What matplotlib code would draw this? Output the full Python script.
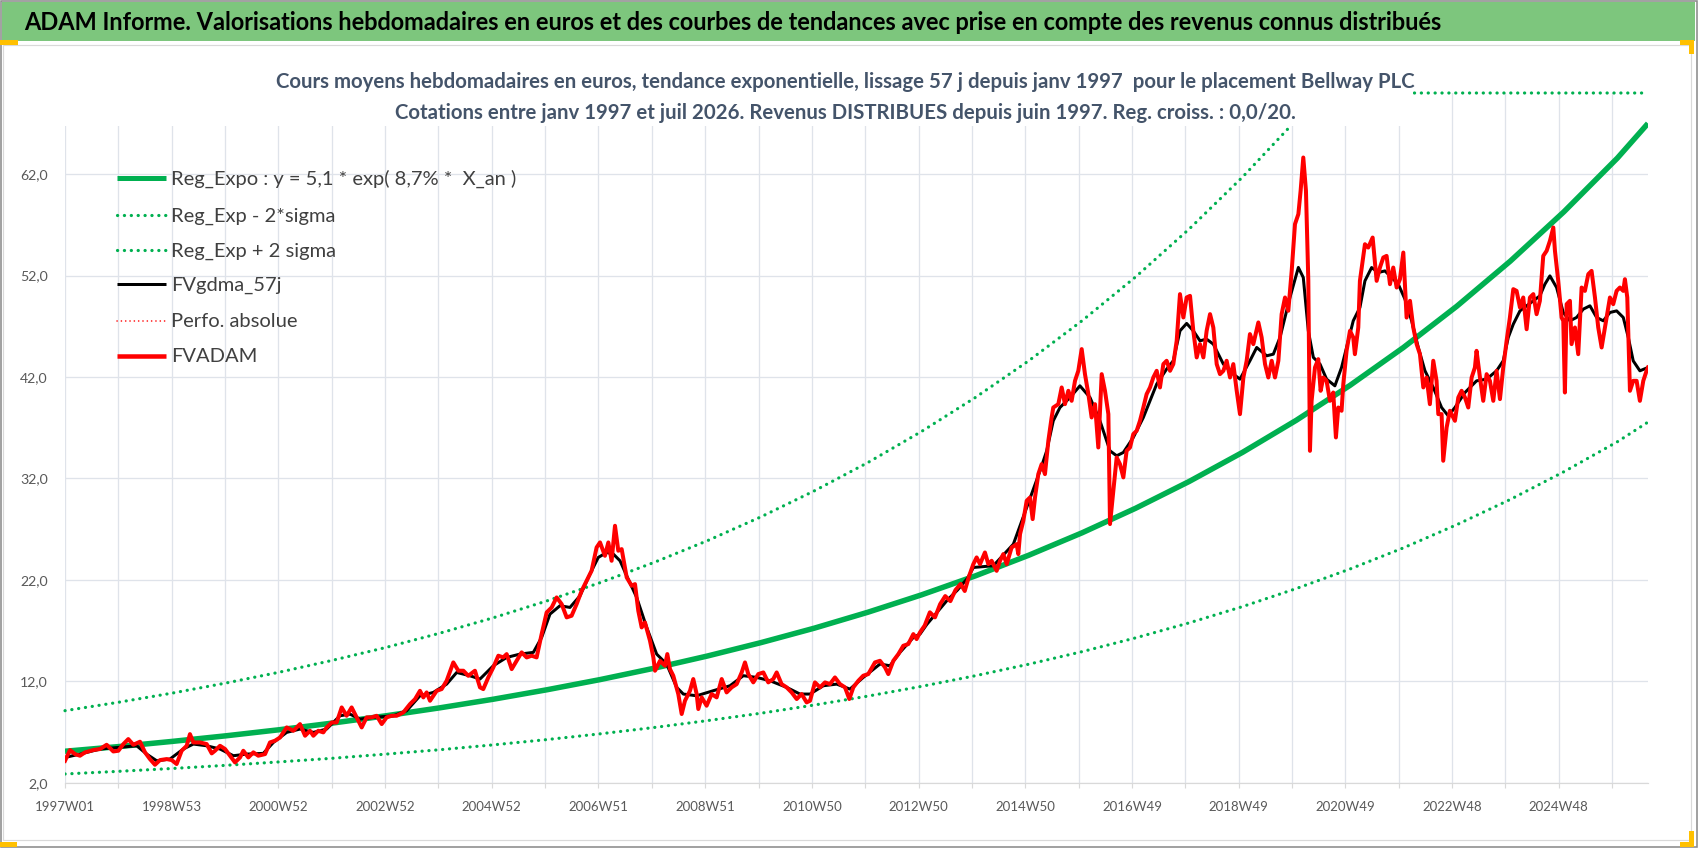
import numpy as np
import matplotlib
matplotlib.use("Agg")
import matplotlib.pyplot as plt
from matplotlib import font_manager
from matplotlib.lines import Line2D
from matplotlib.patches import Rectangle

# ---------------- data ----------------
x_labels = ["1997W01", "1998W53", "2000W52", "2002W52", "2004W52", "2006W51", "2008W51",
            "2010W50", "2012W50", "2014W50", "2016W49", "2018W49", "2020W49", "2022W48", "2024W48"]
n_weeks = 1544
y_ticks = [2, 12, 22, 32, 42, 52, 62]

trend_years = [0, 1, 2, 3, 4, 5, 6, 7, 8, 9, 10, 11, 12, 13, 14, 15, 16, 17, 18, 19,
               20, 21, 22, 23, 24, 25, 26, 27, 28, 29, 29.57]
reg_expo = [5.10, 5.56, 6.07, 6.62, 7.22, 7.88, 8.60, 9.38, 10.23, 11.16, 12.17, 13.28, 14.49,
            15.81, 17.24, 18.81, 20.52, 22.38, 24.42, 26.64, 29.06, 31.70, 34.58, 37.73, 41.16,
            44.90, 48.98, 53.43, 58.29, 63.59, 67.00]
reg_plus = [9.10, 9.93, 10.83, 11.82, 12.89, 14.07, 15.34, 16.74, 18.26, 19.92, 21.73, 23.71,
            25.86, 28.21, 30.78, 33.57, 36.63, 39.96, 43.59, 47.55, 51.87, 56.59, 61.73, 67.34,
            73.47, 80.15, 87.43, 95.38, 104.05, 113.51, 119.60]
reg_minus = [2.86, 3.12, 3.40, 3.71, 4.05, 4.41, 4.82, 5.25, 5.73, 6.25, 6.82, 7.44, 8.12, 8.85,
             9.66, 10.54, 11.50, 12.54, 13.68, 14.92, 16.28, 17.76, 19.37, 21.14, 23.06, 25.15,
             27.44, 29.93, 32.66, 35.62, 37.55]

fvadam_week = [
    0, 4.9, 9.8, 14.6, 19.5, 27.6, 34.1, 40.6, 47.1, 52.0, 56.9, 61.7, 66.6, 73.1, 78.0, 82.8,
    87.7, 92.6, 99.1, 104.0, 108.8, 113.7, 118.6, 121.8, 125.1, 131.6, 138.1, 143.0, 146.2,
    151.1, 156.0, 160.8, 165.7, 170.6, 173.8, 178.7, 183.6, 188.4, 195.0, 199.8, 204.7, 209.6,
    216.1, 222.6, 229.1, 234.0, 238.8, 242.1, 246.9, 251.8, 255.0, 260.0, 264.8, 269.7, 274.5,
    279.4, 284.3, 289.2, 294.0, 298.9, 303.8, 308.7, 313.5, 318.4, 323.3, 329.8, 336.3, 341.2,
    346.0, 349.3, 352.5, 355.8, 362.3, 367.1, 372.0, 378.5, 383.4, 388.3, 393.1, 399.6,
    404.5, 407.7, 412.6, 417.5, 422.4, 427.2, 430.5, 435.4, 440.2, 445.1, 450.0, 454.9, 459.7,
    464.6, 469.5, 474.4, 479.2, 484.1, 489.0, 493.8, 498.7, 503.6, 508.5, 513.3, 518.2, 521.5,
    526.3, 529.6, 532.8, 536.1, 539.3, 542.6, 547.5, 552.3, 555.6, 558.8, 562.1, 565.3, 570.2,
    573.5, 575.1, 580.0, 584.8, 587.1, 589.7, 592.9, 597.8, 601.1, 604.3, 609.2, 612.4, 615.7,
    617.3, 620.6, 625.4, 630.3, 635.2, 640.1, 644.9, 649.8, 654.7, 659.6, 662.8, 666.0, 670.9,
    675.8, 680.7, 685.5, 690.4, 693.7, 698.5, 703.4, 708.3, 713.2, 718.0, 722.9, 726.2, 731.0,
    735.9, 740.8, 745.6, 750.5, 755.4, 760.3, 764.5, 768.4, 773.3, 778.1, 783.0, 789.5, 794.4,
    799.3, 802.5, 807.4, 812.3, 817.1, 822.0, 826.9, 830.1, 833.4,
    838, 843, 848, 853, 858, 863, 868, 873, 877, 881,
    885.4, 888.6, 891.9, 896.7, 900.0, 903.2, 908.1, 911.4, 914.6, 917.9, 922.7, 927.6, 929.2,
    930.9, 934.1, 937.4, 940.6, 943.2, 945.5, 948.7, 952.0, 955.2, 958.5, 961.7, 963.3, 968.2,
    971.5, 974.7, 978.0, 981.2, 984.5, 987.7, 991.0, 994.2, 997.5, 1000.7, 1004.0, 1007.2,
    1010.5, 1013.7, 1017.0, 1018.6, 1021.8, 1025.1, 1028.3, 1031.6, 1034.8, 1038.1, 1041.3,
    1044.6, 1047.8, 1051.1, 1054.3, 1057.6, 1060.8, 1064.1, 1067.3, 1070.6, 1073.8, 1077.1,
    1080.3, 1083.6, 1086.8, 1090.1, 1093.3, 1096.6, 1099.8, 1103.1, 1106.3, 1109.6, 1112.8,
    1116.1, 1119.3, 1122.6, 1125.8, 1129.1, 1132.3, 1135.6, 1138.8, 1142.1, 1145.3, 1148.6,
    1151.8, 1155.0, 1158.3, 1163.2, 1166.4, 1169.7, 1172.9, 1176.2, 1179.4, 1182.7, 1185.9,
    1189.2, 1192.4, 1195.7, 1198.9, 1202.2, 1204.4, 1207.0, 1209.6, 1211.9, 1213.5,
    1215.1, 1218.4, 1221.6, 1223.9, 1226.5, 1229.7, 1233.0, 1236.2, 1238.8, 1241.1, 1244.3,
    1246.0, 1249.2, 1252.5, 1255.7, 1257.3, 1260.6, 1262.2, 1267.1, 1270.3, 1274.6, 1278.5,
    1281.7, 1285.0, 1288.2, 1291.5, 1294.7, 1298.0, 1301.2, 1304.5, 1307.7, 1311.0, 1314.2,
    1317.5, 1320.7, 1324.0, 1327.2, 1330.4, 1333.7, 1336.9, 1338.6, 1341.8, 1343.4, 1346.7,
    1349.9, 1354.8, 1358.1, 1361.3, 1364.6, 1367.8, 1371.1, 1374.3, 1375.9, 1379.2, 1382.4,
    1385.7, 1388.9, 1392.2, 1395.4, 1398.7, 1401.9, 1405.2, 1408.4, 1411.7, 1414.9, 1418.2,
    1421.4, 1424.7, 1427.9, 1431.2, 1434.4, 1437.6, 1440.9, 1444.2, 1447.4, 1450.7, 1452.3,
    1455.5, 1458.8, 1460.4, 1462.0, 1463.7, 1466.9, 1468.5, 1471.8, 1475.0, 1478.3, 1481.5,
    1484.8, 1488.0, 1491.3, 1494.5, 1497.8, 1501.0, 1505.9, 1509.1, 1512.4, 1515.6, 1518.9,
    1520.5, 1522.8, 1525.4, 1528.6, 1531.9, 1535.1, 1538.4, 1541.6, 1543.0]
fvadam = [
    4.16, 5.22, 4.82, 4.66, 4.99, 5.22, 5.32, 5.74, 5.08, 5.15, 5.81, 6.30, 5.74, 6.04, 4.99, 4.33,
    3.77, 4.23, 4.33, 4.23, 3.84, 5.15, 5.64, 6.79, 5.97, 5.97, 5.81, 4.89, 5.15,
    5.64, 5.32, 4.66, 4.00, 4.49, 5.15, 4.49, 4.99, 4.66, 4.82, 5.97, 6.14, 6.46,
    7.45, 7.12, 7.78, 6.63, 7.12, 6.63, 7.12, 6.96, 7.45, 7.94, 7.94, 9.42, 8.60,
    9.42, 8.44, 7.45, 8.44, 8.44, 8.60, 7.78, 8.44, 8.60, 8.60, 8.93, 9.75, 10.24,
    11.06, 10.41, 10.90, 10.08, 11.06, 11.23, 12.05, 13.86, 13.04, 13.04, 12.54, 13.04,
    11.40, 11.23, 12.38, 13.37, 14.52, 14.35, 14.68, 13.20, 14.02, 14.85, 14.35, 14.52, 14.35,
    16.65, 18.79, 19.28, 20.27, 19.61, 18.30, 18.46, 19.61, 20.92, 21.91, 22.90, 25.20, 25.69,
    24.37, 25.69, 23.88, 27.33, 24.87, 25.03, 22.24, 21.42, 21.58, 18.95, 17.31, 17.80, 16.00,
    14.35, 13.04, 14.02, 13.53, 14.68, 13.20, 12.55, 10.74, 8.77, 10.08, 11.07, 12.22, 10.74,
    9.26, 10.41, 9.59, 10.74, 10.41, 12.22, 10.90, 11.40, 11.72, 12.87, 13.86, 12.71, 11.89,
    12.71, 12.87, 11.89, 12.22, 12.87, 11.72, 11.40, 10.90, 10.25, 10.74, 9.92, 10.08, 11.89,
    11.40, 11.89, 11.72, 12.38, 11.72, 11.40, 10.25, 11.40, 12.05, 12.55, 12.71, 13.86, 14.02,
    13.37, 12.71, 14.02, 14.68, 15.50, 15.67, 16.65, 16.16, 16.82,
    17.5, 18.8, 18.3, 19.6, 20.4, 19.9, 21.0, 21.6, 20.9, 22.3,
    23.55, 24.21, 23.55, 24.70, 23.55, 23.88, 22.89, 23.88, 24.54, 23.55, 25.19, 25.52, 24.54,
    26.51, 27.82, 29.80, 30.12, 27.99, 30.12, 32.42, 33.41, 32.42, 35.71, 38.01, 38.99, 39.32,
    40.97, 39.32, 40.64, 39.65, 41.63, 42.61, 44.75, 42.28, 40.31, 38.01, 39.32, 35.05,
    42.28, 40.64, 38.34, 27.50, 30.78, 34.07, 33.41, 32.10, 34.73, 35.05, 36.37,
    36.70, 37.68, 38.99, 40.31, 40.97, 41.95, 42.61, 40.97, 43.27, 43.60, 42.61,
    43.27, 45.57, 50.17, 47.87, 49.84, 50.00, 46.55, 43.93, 45.24, 43.93, 46.55,
    48.20, 46.88, 43.27, 42.28, 42.61, 43.60, 41.95, 43.27, 40.64, 38.34, 41.95,
    43.60, 46.23, 45.24, 47.38, 45.90, 43.27, 41.95, 43.60, 41.95, 43.60, 48.20,
    49.84, 48.53, 52.47, 57.07, 58.06, 60.36, 63.64, 60.36, 51.48, 34.72,
    39.65, 42.94, 43.76, 40.64, 41.95, 41.62, 39.65, 40.47, 36.04, 38.99, 38.67,
    41.30, 44.58, 46.55, 45.90, 44.25, 46.88, 51.48, 55.09, 54.76, 55.75, 51.48,
    52.79, 53.78, 53.94, 51.15, 52.79, 50.82, 51.64, 54.27, 47.86, 49.51, 46.88,
    45.24, 44.25, 40.97, 41.95, 39.32, 43.60, 41.62, 38.34, 38.34, 33.74, 37.02,
    38.67, 37.68, 39.98, 40.64, 39.98, 38.99, 41.95, 42.94, 44.58, 41.95, 39.65,
    42.28, 41.62, 39.65, 42.61, 39.82, 42.94, 45.57, 47.87, 50.66, 50.49, 48.85,
    49.84, 46.71, 49.84, 50.17, 48.19, 49.51, 53.94, 54.44, 55.42, 56.74, 54.44,
    51.48, 47.86, 47.54, 40.47, 49.18, 49.51, 45.24, 46.88, 44.25, 50.82, 50.49,
    52.14, 52.46, 49.84, 46.88, 44.91, 46.88, 49.84, 49.18, 50.49, 50.82, 50.49,
    51.64, 49.84, 40.64, 41.62, 41.62, 39.65, 41.62, 42.61, 42.94]

gdma_week = [
    0, 14.6, 34.1, 52.0, 69.9, 79.6, 89.4, 102.3, 115.3, 125.1, 138.1, 151.1, 164.1, 177.1,
    193.3, 203.1, 216.1, 229.1, 242.1, 255.0, 268.0, 277.8, 287.5, 300.5, 320.0, 333.0, 346.0,
    359.0, 372.0, 381.8, 394.8,
    404.5, 417.5, 430.5, 443.5, 456.5, 464.6, 472.7, 482.5, 492.2, 502.0, 511.7, 519.8, 528.0,
    534.5, 541.0, 547.5, 557.2, 567.0, 576.7, 586.4, 596.2, 602.7, 615.7, 631.9, 648.2, 661.2,
    674.2, 687.2, 703.4, 716.4, 726.2, 739.2, 752.2, 765.1, 778.1, 794.4, 804.1, 813.9, 826.9,
    833.4, 840, 850, 860, 870, 880,
    885.4, 904.9, 924.4, 937.4, 950.4, 956.9, 963.3, 969.8, 979.6, 989.3, 999.1, 1008.8,
    1018.6, 1025.1, 1031.6, 1041.3, 1051.1, 1064.1, 1073.8, 1080.3, 1086.8, 1093.3, 1099.8,
    1106.3, 1112.8, 1119.3, 1129.1, 1138.8, 1145.3, 1155.0, 1161.6, 1171.3, 1177.8, 1184.3,
    1194.0, 1202.2, 1207.0, 1211.9, 1216.8, 1223.3,
    1229.7, 1237.8, 1244.3, 1250.8, 1255.7, 1262.2, 1267.1, 1273.6, 1280.1, 1286.6, 1293.1,
    1299.6, 1306.1, 1312.6, 1319.1, 1325.6, 1333.7, 1341.8, 1348.3, 1354.8, 1364.6, 1375.9,
    1385.7, 1395.4, 1401.9, 1406.8, 1411.7, 1418.2, 1424.7, 1431.2, 1437.6, 1442.5, 1447.4,
    1453.9, 1460.4, 1466.9, 1473.4, 1479.9, 1486.4, 1492.9, 1499.4, 1505.9, 1512.4, 1518.9,
    1523.8, 1528.6, 1535.1, 1543.0]
gdma = [
    4.49, 4.82, 5.32, 5.48, 5.64, 4.82, 4.16, 4.33, 5.32, 5.81, 5.64, 5.32, 4.66, 4.82,
    4.89, 5.97, 6.96, 7.29, 6.96, 7.29, 8.60, 8.76, 8.27, 8.44, 8.60, 9.09, 10.57,
    10.90, 11.72, 12.87, 12.54,
    12.22, 13.53, 14.35, 14.68, 14.85, 16.32, 18.62, 19.45, 19.28, 20.43, 22.57, 24.21, 24.70,
    24.54, 23.88, 22.40, 20.27, 17.31, 14.68, 13.70, 11.40, 10.74, 10.57, 11.07, 11.56, 12.55,
    12.38, 12.05, 11.40, 10.74, 10.74, 11.56, 11.72, 11.23, 12.38, 13.70, 13.53, 14.85, 16.32,
    16.65, 17.6, 18.8, 20.0, 21.0, 22.2,
    23.22, 23.39, 25.52, 29.14, 32.75, 34.72, 37.68, 38.99, 39.98, 41.13, 39.98, 37.68,
    34.72, 34.23, 34.56, 36.04, 38.01, 41.30, 42.78, 43.60, 46.55, 47.28, 46.55,
    45.57, 45.73, 45.24, 43.27, 42.28, 41.79, 43.60, 44.91, 44.09, 44.25, 45.90,
    49.84, 52.80, 51.81, 46.55, 43.93, 43.27,
    41.79, 41.13, 42.94, 45.57, 47.54, 48.85, 51.48, 52.79, 52.30, 52.46, 51.81,
    51.15, 49.67, 47.54, 44.91, 42.61, 40.97, 38.99, 38.17, 38.99, 40.47, 41.62,
    41.79, 42.61, 43.60, 45.90, 47.21, 48.52, 49.02, 49.51, 50.00, 51.15, 51.97,
    50.82, 48.36, 47.54, 47.87, 48.69, 49.02, 47.87, 47.54, 48.36, 48.52, 47.87,
    45.90, 43.59, 42.61, 42.94]

title = ("ADAM Informe. Valorisations hebdomadaires en euros et des courbes de tendances "
         "avec prise en compte des revenus connus distribués")
sub1 = ("Cours moyens hebdomadaires en euros, tendance exponentielle, lissage 57 j depuis "
        "janv 1997  pour le placement Bellway PLC")
sub2 = ("Cotations entre janv 1997 et juil 2026. Revenus DISTRIBUES depuis juin 1997. "
        "Reg. croiss. : 0,0/20.")
legend_labels = ["Reg_Expo : y = 5,1 * exp( 8,7% *  X_an )", "Reg_Exp - 2*sigma",
                 "Reg_Exp + 2 sigma", "FVgdma_57j", "Perfo. absolue", "FVADAM"]

# ---------------- layout ----------------
W, H, DPI = 1698, 848, 100
PT = 72.0 / DPI  # points per pixel
names = {f.name for f in font_manager.fontManager.ttflist}
FONT = next((f for f in ["Liberation Sans Narrow", "Lato", "Open Sans"] if f in names), "DejaVu Sans")
plt.rcParams['font.family'] = [FONT, 'DejaVu Sans']

fig = plt.figure(figsize=(W / DPI, H / DPI), dpi=DPI)
fig.patch.set_facecolor('white')
renderer = fig.canvas.get_renderer()


def fx(x):
    return x / W


def fy(y):
    return 1 - y / H


def fit(t, target):
    for _ in range(3):
        w = t.get_window_extent(renderer).width
        t.set_fontsize(t.get_fontsize() * target / w)
    return t.get_fontsize()


def measure(s, target, **kw):
    t = fig.text(0, 0, s, fontsize=12, **kw)
    fs = fit(t, target)
    t.remove()
    return fs


YMIN, YMAX = 2, 70
ax = fig.add_axes([fx(65), fy(782.7), fx(1648) - fx(65), fy(93) - fy(782.7)])
ax.set_xlim(0, n_weeks - 1)
ax.set_ylim(YMIN, YMAX)
for s in ['top', 'right', 'left']:
    ax.spines[s].set_visible(False)
GRID = '#DFE3EA'
ax.spines['bottom'].set_color('#D9D9D9')
ax.spines['bottom'].set_linewidth(1.2 * PT)

xt = list(range(0, n_weeks - 1, 52))
ax.set_xticks(xt)
ax.set_xticklabels([x_labels[i // 2] if i % 2 == 0 else '' for i in range(len(xt))])
ax.set_yticks(y_ticks)
ax.set_yticklabels([f"{v:.1f}".replace('.', ',') for v in y_ticks])
fs_x = measure("1997W01", 60)
fs_y = measure("62,0", 27.6)
ax.tick_params(axis='x', length=5 * PT, width=1.2 * PT, color='#D9D9D9', labelcolor='#595959',
               labelsize=fs_x, pad=13 * PT)
ax.tick_params(axis='y', length=0, labelcolor='#595959', labelsize=fs_y, pad=17 * PT)
ax.grid(True, color=GRID, linewidth=1.3 * PT, zorder=0)
ax.set_axisbelow(True)

GREEN = '#00B050'
tw = [y * 52.18 for y in trend_years]
ax.plot(tw, reg_expo, color=GREEN, lw=5.5 * PT, solid_capstyle='butt', zorder=3)
dot = dict(lw=3.2 * PT, linestyle=(0, (0.05, 2.1)), dash_capstyle='round')
ax.plot(tw, reg_minus, color=GREEN, zorder=3, **dot)
ax.plot(tw, np.minimum(reg_plus, YMAX), color=GREEN, zorder=3, clip_on=False, **dot)
ax.plot(gdma_week, gdma, color='black', lw=3 * PT, zorder=4, solid_joinstyle='round')
ax.plot(fvadam_week, fvadam, color='#FF0000', lw=4 * PT, zorder=5, solid_joinstyle='round')

# ---------------- frame / decorations ----------------
fig.add_artist(Rectangle((fx(2), fy(41)), fx(1695) - fx(2), fy(2) - fy(41), transform=fig.transFigure,
                         facecolor='#7DC67D', edgecolor='none', zorder=1))
fig.add_artist(Rectangle((fx(3), fy(840)), fx(1691) - fx(3), fy(44.5) - fy(840), transform=fig.transFigure,
                         facecolor='none', edgecolor='#D9D9D9', lw=1.2 * PT, zorder=1))
fig.add_artist(Rectangle((fx(0.8), fy(847.2)), fx(1697.2) - fx(0.8), fy(0.8) - fy(847.2),
                         transform=fig.transFigure, facecolor='none', edgecolor='#8C8C8C',
                         lw=1.6 * PT, zorder=6))
YEL = '#FFC000'
for (x0, y0, x1, y1) in [(0, 40, 18, 45), (1680, 40, 1694, 45), (1689, 40, 1694, 54),
                         (0, 842, 17, 847), (1689, 831, 1694, 847), (1680, 842, 1694, 847)]:
    fig.add_artist(Rectangle((fx(x0), fy(y1)), fx(x1) - fx(x0), fy(y0) - fy(y1),
                             transform=fig.transFigure, facecolor=YEL, edgecolor='none', zorder=6))
# white box of the subtitle (covers the top of the plot area)
fig.add_artist(Rectangle((fx(50), fy(126)), fx(1413) - fx(50), fy(55) - fy(126), transform=fig.transFigure,
                         facecolor='white', edgecolor='none', zorder=2))

t = fig.text(fx(24), fy(23), title, ha='left', va='center', color='black', weight='bold',
             fontsize=16, zorder=3)
fit(t, 1416)
t1 = fig.text(fx(845), fy(82), sub1, ha='center', va='center', color='#44546A', weight='bold',
              fontsize=14, zorder=3)
fs_sub = fit(t1, 1132)
fig.text(fx(845), fy(113), sub2, ha='center', va='center', color='#44546A', weight='bold',
         fontsize=fs_sub, zorder=3)

# ---------------- legend ----------------
rows = [178.3, 215, 250, 284.3, 320.7, 356]
styles = [dict(color=GREEN, lw=5 * PT, solid_capstyle='butt'),
          dict(color=GREEN, **dot),
          dict(color=GREEN, **dot),
          dict(color='black', lw=3 * PT, solid_capstyle='butt'),
          dict(color='#FF0000', lw=1.6 * PT, linestyle=(0, (0.1, 2.6)), dash_capstyle='round'),
          dict(color='#FF0000', lw=4.5 * PT, solid_capstyle='butt')]
fs_leg = measure(legend_labels[1], 164)
for lab, yy, st in zip(legend_labels, rows, styles):
    fig.add_artist(Line2D([fx(117), fx(166)], [fy(yy), fy(yy)], transform=fig.transFigure,
                          zorder=3, **st))
    fig.text(fx(171), fy(yy + 1), lab, ha='left', va='center', color='#404040',
             fontsize=fs_leg, zorder=3)

fig.savefig("out.png", dpi=DPI, facecolor='white')
